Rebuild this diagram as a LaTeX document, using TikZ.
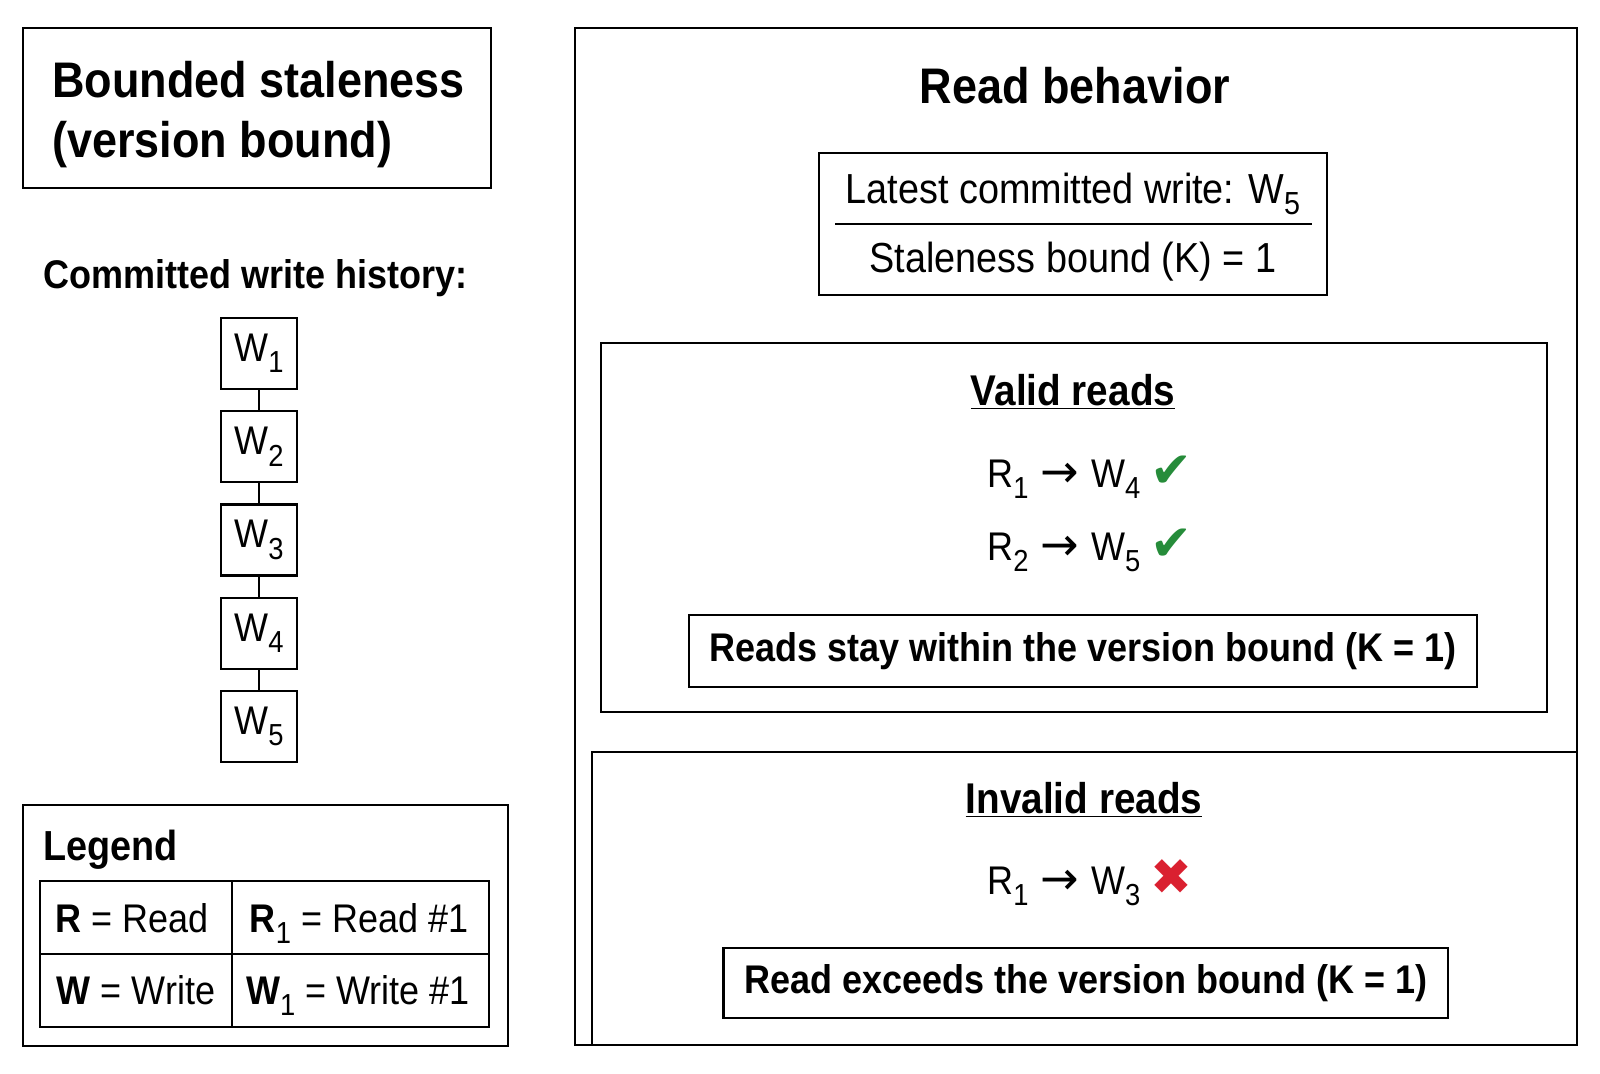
\documentclass[tikz,border=0pt]{standalone}
\usepackage{fontspec}
\setmainfont{Liberation Sans}[FakeStretch=0.9]
\newfontfamily\symfont{DejaVu Sans}
\usetikzlibrary{positioning}

\definecolor{okgreen}{RGB}{38,140,58}
\definecolor{badred}{RGB}{218,32,48}

% lowered index digit, as in W1, R1
\newcommand\lowidx[1]{\raisebox{-0.28em}{\scalebox{0.76}{#1}}}
\newcommand\readarrow{\hspace{0.3em}{\symfont\fontsize{23}{23}\selectfont →}\hspace{0.3em}}

\tikzset{
  frame/.style={draw, line width=1.1pt},
  title/.style={font=\fontsize{25}{30}\selectfont\bfseries, inner sep=0pt},
  subhead/.style={font=\fontsize{20}{24}\selectfont\bfseries, inner sep=0pt},
  section/.style={font=\fontsize{21.5}{25}\selectfont\bfseries, inner sep=0pt},
  body/.style={font=\fontsize{21}{25}\selectfont, inner sep=0pt},
  readrow/.style={font=\fontsize{20}{24}\selectfont, inner sep=0pt},
  cell/.style={font=\fontsize{20}{24}\selectfont, inner sep=0pt},
  note/.style={frame, font=\fontsize{20}{24}\selectfont\bfseries, inner sep=0pt},
  wbox/.style={frame, minimum width=38pt, minimum height=35.5pt, inner sep=0pt,
    font=\fontsize{20}{24}\selectfont},
  link/.style={draw, line width=1.1pt}
}

\begin{document}
\begin{tikzpicture}[x=0.5pt,y=-0.5pt]
\useasboundingbox (0,0) rectangle (1600,1073);

% left column: title and write history
\draw[frame] (23,28) rectangle (491,188);
\node[title, anchor=base west, align=left] (title) at (52,157) {Bounded staleness\\(version bound)};
\node[subhead, anchor=base west] (histlabel) at (43,288) {Committed write history:};

\node[wbox] (w1) at (259,353.5) {W\lowidx{1}};
\node[wbox, below=10pt of w1] (w2) {W\lowidx{2}};
\node[wbox, below=10pt of w2] (w3) {W\lowidx{3}};
\node[wbox, below=10pt of w3] (w4) {W\lowidx{4}};
\node[wbox, below=10pt of w4] (w5) {W\lowidx{5}};
\draw[link] (w1) -- (w2);
\draw[link] (w2) -- (w3);
\draw[link] (w3) -- (w4);
\draw[link] (w4) -- (w5);

% legend
\draw[frame] (23,805) rectangle (508,1046);
\node[subhead, font=\fontsize{21}{25}\selectfont\bfseries, anchor=base west] (legendhead) at (43,860) {Legend};
\draw[frame] (40,881) rectangle (489,1027);
\draw[frame] (232,881) -- (232,1027);
\draw[frame] (40,954) -- (489,954);
\node[cell, anchor=base] (legr) at (132,932) {\textbf{R} = Read};
\node[cell, anchor=base] (legrone) at (359,932) {\textbf{R}\lowidx{1} = Read \#1};
\node[cell, anchor=base] (legw) at (136,1004) {\textbf{W} = Write};
\node[cell, anchor=base] (legwone) at (358,1004) {\textbf{W}\lowidx{1} = Write \#1};

% right column: read behavior
\draw[frame] (575,28) rectangle (1577,1045);
\node[title, anchor=base] (readhead) at (1075,103) {Read behavior};
\node[frame, minimum width=253.8pt, minimum height=71pt] (latest) at (1073,224) {};
\node[body, anchor=base] (latestw) at (1073,203) {Latest committed write: W\lowidx{5}};
\node[body, anchor=base] (bound) at (1073,272) {Staleness bound (K) = 1};
\draw[line width=1pt] ([xshift=8.5pt]latest.west) -- ([xshift=-8pt]latest.east);

% valid reads
\draw[frame] (601,343) rectangle (1547,712);
\node[section, anchor=base] (validhead) at (1073,405) {\underline{Valid reads}};
\node[readrow, anchor=base west] (readone) at (987,487) {R\lowidx{1}\readarrow W\lowidx{4} {\symfont\fontsize{25}{25}\selectfont\color{okgreen}✔}};
\node[readrow, anchor=base west] (readtwo) at (987,560) {R\lowidx{2}\readarrow W\lowidx{5} {\symfont\fontsize{25}{25}\selectfont\color{okgreen}✔}};
\node[note, minimum width=394.3pt, minimum height=36pt] (validnote) at (1083,651) {Reads stay within the version bound (K = 1)};

% invalid reads
\draw[frame] (592,752) rectangle (1577,1045);
\node[section, anchor=base] (invalidhead) at (1084,813) {\underline{Invalid reads}};
\node[readrow, anchor=base west] (readbad) at (987,894) {R\lowidx{1}\readarrow W\lowidx{3} {\symfont\fontsize{25}{25}\selectfont\color{badred}✖}};
\node[note, minimum width=362.3pt, minimum height=35pt] (invalidnote) at (1085.7,983) {Read exceeds the version bound (K = 1)};
\end{tikzpicture}
\end{document}
